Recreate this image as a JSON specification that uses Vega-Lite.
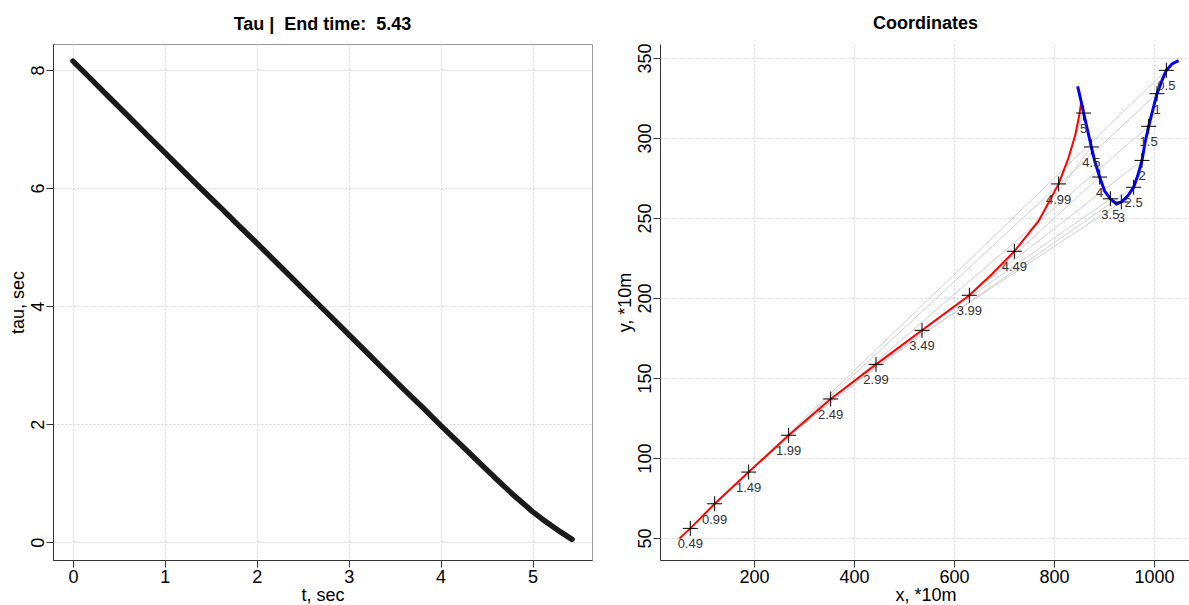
{
  "$schema": "https://vega.github.io/schema/vega-lite/v6.json",
  "background": "white",
  "padding": {"left": 8, "top": 14, "right": 0, "bottom": 0},
  "config": {
    "font": "Liberation Sans",
    "view": {"stroke": null},
    "axis": {
      "labelFont": "Liberation Sans", "titleFont": "Liberation Sans",
      "labelFontSize": 18, "titleFontSize": 18, "titleFontWeight": "normal",
      "labelColor": "#000", "titleColor": "#000",
      "tickSize": 7, "tickColor": "#333", "domainColor": "#333",
      "gridColor": "#d4d4d4", "gridDash": [2, 2]
    },
    "axisX": {"labelPadding": 1, "titlePadding": 0},
    "axisY": {"labelPadding": -1, "titlePadding": 2},
    "title": {"font": "Liberation Sans", "fontSize": 18, "fontWeight": "bold", "offset": 10, "color": "#000"},
    "concat": {"spacing": 23}
  },
  "datasets": {
    "tau": [
      {"t": 0, "tau": 8.15}, {"t": 0.2, "tau": 7.84}, {"t": 0.4, "tau": 7.53}, {"t": 0.6, "tau": 7.22},
      {"t": 0.8, "tau": 6.91}, {"t": 1.0, "tau": 6.60}, {"t": 1.2, "tau": 6.29}, {"t": 1.4, "tau": 5.98},
      {"t": 1.6, "tau": 5.68}, {"t": 1.8, "tau": 5.37}, {"t": 2.0, "tau": 5.07}, {"t": 2.2, "tau": 4.76},
      {"t": 2.4, "tau": 4.45}, {"t": 2.6, "tau": 4.14}, {"t": 2.8, "tau": 3.83}, {"t": 3.0, "tau": 3.52},
      {"t": 3.2, "tau": 3.21}, {"t": 3.4, "tau": 2.90}, {"t": 3.6, "tau": 2.59}, {"t": 3.8, "tau": 2.29},
      {"t": 4.0, "tau": 1.98}, {"t": 4.2, "tau": 1.68}, {"t": 4.4, "tau": 1.38}, {"t": 4.6, "tau": 1.08},
      {"t": 4.8, "tau": 0.79}, {"t": 5.0, "tau": 0.52}, {"t": 5.1, "tau": 0.40}, {"t": 5.2, "tau": 0.29},
      {"t": 5.3, "tau": 0.18}, {"t": 5.4, "tau": 0.08}, {"t": 5.43, "tau": 0.05}
    ],
    "red": [
      {"o": 1, "x": 50.7, "y": 49.6}, {"o": 2, "x": 72.6, "y": 56.0}, {"o": 3, "x": 121.3, "y": 71.4},
      {"o": 4, "x": 189.3, "y": 91.2}, {"o": 5, "x": 269.3, "y": 114.2}, {"o": 6, "x": 353.3, "y": 136.9},
      {"o": 7, "x": 444, "y": 158.5}, {"o": 8, "x": 536, "y": 179.8}, {"o": 9, "x": 630.7, "y": 201.7},
      {"o": 10, "x": 676, "y": 215}, {"o": 11, "x": 720.7, "y": 229.2}, {"o": 12, "x": 769, "y": 248},
      {"o": 13, "x": 809.3, "y": 271.3}, {"o": 14, "x": 829, "y": 287.5}, {"o": 15, "x": 842.7, "y": 302},
      {"o": 16, "x": 850.7, "y": 314.6}, {"o": 17, "x": 854.7, "y": 323}
    ],
    "blue": [
      {"o": 1, "x": 1049.3, "y": 348.3}, {"o": 2, "x": 1036, "y": 346.3}, {"o": 3, "x": 1024.7, "y": 342.3},
      {"o": 4, "x": 1016, "y": 336}, {"o": 5, "x": 1006, "y": 327.7}, {"o": 6, "x": 998, "y": 318},
      {"o": 7, "x": 989.3, "y": 307.3}, {"o": 8, "x": 982, "y": 297}, {"o": 9, "x": 976, "y": 286},
      {"o": 10, "x": 968, "y": 277}, {"o": 11, "x": 959.3, "y": 269.2}, {"o": 12, "x": 948, "y": 264},
      {"o": 13, "x": 934.7, "y": 260}, {"o": 14, "x": 925, "y": 258.8}, {"o": 15, "x": 912.7, "y": 262},
      {"o": 16, "x": 901, "y": 267}, {"o": 17, "x": 891.3, "y": 275.6}, {"o": 18, "x": 882, "y": 285},
      {"o": 19, "x": 874.7, "y": 294.4}, {"o": 20, "x": 867, "y": 305}, {"o": 21, "x": 859.3, "y": 315.6},
      {"o": 22, "x": 852.7, "y": 325}, {"o": 23, "x": 847.3, "y": 332.3}
    ],
    "marks": [
      {"x": 72.6, "y": 56.0, "label": "0.49"}, {"x": 121.3, "y": 71.4, "label": "0.99"},
      {"x": 189.3, "y": 91.2, "label": "1.49"}, {"x": 269.3, "y": 114.2, "label": "1.99"},
      {"x": 353.3, "y": 136.9, "label": "2.49"}, {"x": 444, "y": 158.5, "label": "2.99"},
      {"x": 536, "y": 179.8, "label": "3.49"}, {"x": 630.7, "y": 201.7, "label": "3.99"},
      {"x": 720.7, "y": 229.2, "label": "4.49"}, {"x": 809.3, "y": 271.3, "label": "4.99"},
      {"x": 1024.7, "y": 342.3, "label": "0.5"}, {"x": 1006, "y": 327.7, "label": "1"},
      {"x": 989.3, "y": 307.3, "label": "1.5"}, {"x": 976, "y": 286, "label": "2"},
      {"x": 959.3, "y": 269.2, "label": "2.5"}, {"x": 934.7, "y": 260, "label": "3"},
      {"x": 912.7, "y": 262, "label": "3.5"}, {"x": 891.3, "y": 275.6, "label": "4"},
      {"x": 874.7, "y": 294.4, "label": "4.5"}, {"x": 859.3, "y": 315.6, "label": "5"}
    ],
    "links": [
      {"x": 72.6, "y": 56.0, "x2": 1024.7, "y2": 342.3},
      {"x": 121.3, "y": 71.4, "x2": 1006, "y2": 327.7},
      {"x": 189.3, "y": 91.2, "x2": 989.3, "y2": 307.3},
      {"x": 269.3, "y": 114.2, "x2": 976, "y2": 286},
      {"x": 353.3, "y": 136.9, "x2": 959.3, "y2": 269.2},
      {"x": 444, "y": 158.5, "x2": 934.7, "y2": 260},
      {"x": 536, "y": 179.8, "x2": 912.7, "y2": 262},
      {"x": 630.7, "y": 201.7, "x2": 891.3, "y2": 275.6},
      {"x": 720.7, "y": 229.2, "x2": 874.7, "y2": 294.4},
      {"x": 809.3, "y": 271.3, "x2": 859.3, "y2": 315.6}
    ]
  },
  "hconcat": [
    {
      "width": 539, "height": 516,
      "title": {"text": "Tau |\u00a0 End time:\u00a0 5.43"},
      "view": {"stroke": "#999"},
      "data": {"name": "tau"},
      "mark": {"type": "line", "color": "#1a1a1a", "strokeWidth": 5.5, "strokeCap": "round", "strokeJoin": "round"},
      "encoding": {
        "x": {"field": "t", "type": "quantitative", "scale": {"domain": [-0.217, 5.647], "nice": false, "zero": false},
              "axis": {"values": [0, 1, 2, 3, 4, 5], "title": "t, sec"}},
        "y": {"field": "tau", "type": "quantitative", "scale": {"domain": [-0.3, 8.44], "nice": false, "zero": false},
              "axis": {"values": [0, 2, 4, 6, 8], "title": "tau, sec", "labelAngle": -90, "labelAlign": "center"}}
      }
    },
    {
      "width": 531, "height": 516,
      "title": {"text": "Coordinates"},
      "encoding": {
        "x": {"field": "x", "type": "quantitative", "scale": {"domain": [12, 1074], "nice": false, "zero": false},
              "axis": {"values": [200, 400, 600, 800, 1000], "format": "d", "title": "x, *10m"}},
        "y": {"field": "y", "type": "quantitative", "scale": {"domain": [36.25, 358.75], "nice": false, "zero": false},
              "axis": {"values": [50, 100, 150, 200, 250, 300, 350], "title": "y, *10m", "labelAngle": -90, "labelAlign": "center"}}
      },
      "layer": [
        {
          "data": {"name": "links"},
          "mark": {"type": "rule", "color": "#d0d0d0", "strokeWidth": 1},
          "encoding": {"x2": {"field": "x2"}, "y2": {"field": "y2"}}
        },
        {
          "data": {"name": "red"},
          "mark": {"type": "line", "color": "#ff0000", "strokeWidth": 2},
          "encoding": {"order": {"field": "o"}}
        },
        {
          "data": {"name": "blue"},
          "mark": {"type": "line", "color": "#0000ff", "strokeWidth": 3},
          "encoding": {"order": {"field": "o"}}
        },
        {
          "data": {"name": "marks"},
          "mark": {"type": "point", "shape": "M-1,0L1,0M0,-1L0,1", "size": 225, "filled": false, "stroke": "#000", "strokeWidth": 1, "opacity": 1}
        },
        {
          "data": {"name": "marks"},
          "mark": {"type": "text", "dy": 16, "fontSize": 13, "color": "#333", "align": "center", "baseline": "middle"},
          "encoding": {"text": {"field": "label"}}
        }
      ]
    }
  ]
}
